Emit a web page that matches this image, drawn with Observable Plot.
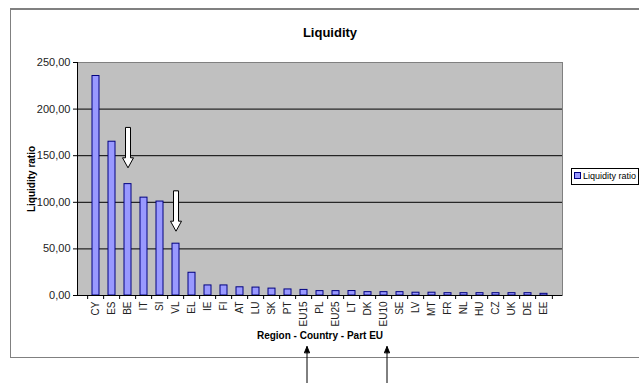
<!DOCTYPE html>
<html>
<head>
<meta charset="utf-8">
<script src="https://cdn.jsdelivr.net/npm/d3@7"></script>
<script src="https://cdn.jsdelivr.net/npm/@observablehq/plot@0.6"></script>
<style>
  body { margin: 0; background: #fff; }
  #wrap { position: relative; width: 639px; height: 383px; overflow: hidden; font-family: "Liberation Sans", Arial, sans-serif; }
  #outer { position: absolute; left: 10px; top: 8px; width: 660px; height: 347px; border: 1px solid #808080; border-top-width: 2px; }
  #chart { position: absolute; left: 0; top: 0; }
  #legend { position: absolute; left: 571px; top: 168px; height: 15px; padding: 0 2px 0 2px; border: 1px solid #000; background: #fff; font-size: 9px; line-height: 15px; white-space: nowrap; }
  #legend span.sw { display: inline-block; width: 5px; height: 5px; background: #9999ff; border: 1px solid #000080; margin-right: 2px; vertical-align: 0px; }
</style>
</head>
<body>
<div id="wrap">
  <div id="outer"></div>
  <div id="chart"></div>
  <div id="legend"><span class="sw"></span>Liquidity ratio</div>
</div>
<script>
const categories = ["CY","ES","BE","IT","SI","VL","EL","IE","FI","AT","LU","SK","PT","EU15","PL","EU25","LT","DK","EU10","SE","LV","MT","FR","NL","HU","CZ","UK","DE","EE"];
const values = [235.5,165.0,119.5,105.0,100.8,55.6,24.4,10.8,10.8,8.8,8.5,7.4,6.5,6.0,4.7,4.7,4.8,3.6,3.6,3.6,3.0,3.0,2.5,2.5,2.5,2.5,2.5,2.5,1.8];
const yTicks = [0, 50, 100, 150, 200, 250];
const gridTicks = [50, 100, 150, 200];
const hollowArrowCats = ["BE", "VL"];
const hollowArrowTips = [137, 69];
const pointerCats = ["EU15", "EU10"];

const data = categories.map((c, i) => ({cat: c, value: values[i]}));
const hollow = hollowArrowCats.map((c, i) => ({cat: c, tip: hollowArrowTips[i]}));

const W = 639, H = 383, ML = 77, MR = 77, MT = 62, MB = 88;
const step = (W - ML - MR) / categories.length;

const blockArrow = {
  draw(context, l) {
    const s = 2.5, h = 5.5, hl = 10;
    context.moveTo(-s, 0);
    context.lineTo(-s, -l + hl);
    context.lineTo(-h, -l + hl);
    context.lineTo(0, -l);
    context.lineTo(h, -l + hl);
    context.lineTo(s, -l + hl);
    context.lineTo(s, 0);
    context.closePath();
  }
};
const pointer = {
  draw(context, l) {
    context.moveTo(0, 0);
    context.lineTo(0, -l);
    context.moveTo(-2.5, -l + 6);
    context.lineTo(0, -l);
    context.lineTo(2.5, -l + 6);
    context.closePath();
  }
};

const chart = Plot.plot({
  width: W, height: H,
  marginLeft: ML, marginRight: MR, marginTop: MT, marginBottom: MB,
  style: {fontFamily: "'Liberation Sans', Arial, sans-serif", fontSize: "10px", background: "transparent", color: "#000", overflow: "visible"},
  x: {domain: categories, paddingInner: 0.58, paddingOuter: 0.29, label: null},
  y: {domain: [0, 250], label: null},
  marks: [
    Plot.frame({fill: "#c0c0c0", stroke: "#808080"}),
    Plot.ruleY(gridTicks, {stroke: "#000"}),
    Plot.barY(data, {x: "cat", y: "value", fill: "#9999ff", stroke: "#000080", strokeWidth: 1}),
    Plot.ruleY([0], {stroke: "#000"}),
    Plot.frame({anchor: "left", stroke: "#000"}),
    Plot.axisY({ticks: yTicks, tickFormat: d => d.toFixed(2).replace(".", ","), tickSize: 4, tickPadding: 3, fontSize: 11, label: null, stroke: "#000", fill: "#222"}),
    Plot.axisX({tickSize: 4, text: null, dx: -step / 2, stroke: "#000"}),
    Plot.axisX({ticks: [categories[categories.length - 1]], tickSize: 4, text: null, dx: step / 2, stroke: "#000"}),
    Plot.axisX({tickSize: 0, tickPadding: 6, tickRotate: -90, fontSize: 10, label: null, fill: "#222"}),
    Plot.text(["Liquidity"], {frameAnchor: "top", dx: 10, dy: -35, fontWeight: "bold", fontSize: 13}),
    Plot.text(["Region - Country - Part EU"], {frameAnchor: "bottom", dy: 43, fontWeight: "bold", fontSize: 10}),
    Plot.text(["Liquidity ratio"], {frameAnchor: "left", textAnchor: "middle", dx: -46, rotate: -90, fontWeight: "bold", fontSize: 10}),
    Plot.vector(hollow, {x: "cat", y: "tip", rotate: 180, anchor: "end", length: 40, shape: blockArrow, fill: "#fff", stroke: "#000", strokeWidth: 1}),
    Plot.vector(pointerCats, {x: d => d, frameAnchor: "bottom", anchor: "start", length: 37, dy: 88, dx: 3, shape: pointer, fill: "#000", stroke: "#000", strokeWidth: 1})
  ]
});
document.getElementById("chart").appendChild(chart);
</script>
</body>
</html>
